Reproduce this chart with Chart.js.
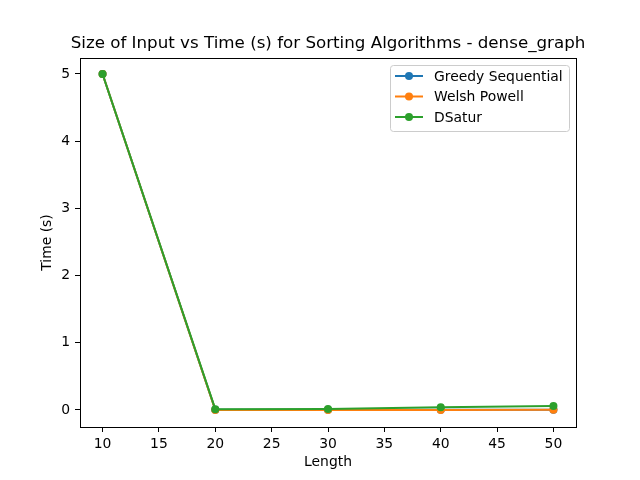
<!DOCTYPE html>
<html>
<head>
<meta charset="utf-8">
<script src="https://cdn.jsdelivr.net/npm/chart.js@4/dist/chart.umd.min.js"></script>
<style>
  html, body { margin: 0; padding: 0; background: #fff; }
  #wrap { width: 640px; height: 480px; }
</style>
</head>
<body>
<div id="wrap"><canvas id="grafico"></canvas></div>
<script>
// valores
const tamanhos = [10, 20, 30, 40, 50];
const greedySequential = [5.0, 0.002, 0.002, 0.003, 0.003];
const welshPowell = [5.0, 0.001, 0.001, 0.001, 0.002];
const dsatur = [5.0, 0.012, 0.015, 0.042, 0.060];
const ticksX = [10, 15, 20, 25, 30, 35, 40, 45, 50];
const ticksY = [0, 1, 2, 3, 4, 5];

const titulo = 'Size of Input vs Time (s) for Sorting Algorithms - dense_graph';
const nomes = ['Greedy Sequential', 'Welsh Powell', 'DSatur'];
const cores = ['#1f77b4', '#ff7f0e', '#2ca02c'];
const series = [greedySequential, welshPowell, dsatur];

const fonte = 'DejaVu Sans';

// título centrado na área do gráfico, moldura dos eixos e legenda
const molduraLegenda = {
  id: 'molduraLegenda',
  afterDraw(chart) {
    const ctx = chart.ctx;
    const a = chart.chartArea;
    ctx.save();

    ctx.fillStyle = '#000';
    ctx.font = '16.7px "' + fonte + '"';
    ctx.textAlign = 'center';
    ctx.textBaseline = 'middle';
    ctx.fillText(titulo, (a.left + a.right) / 2, 44);
    ctx.textAlign = 'left';

    ctx.strokeStyle = '#000';
    ctx.lineWidth = 1;
    ctx.strokeRect(Math.round(a.left) + 0.5, Math.round(a.top) + 0.5,
      Math.round(a.right - a.left), Math.round(a.bottom - a.top));

    // legenda
    const x0 = a.right - 7, y0 = a.top + 7;
    const w = 179, h = 66;
    const bx = x0 - w;
    ctx.fillStyle = 'rgba(255,255,255,0.8)';
    ctx.strokeStyle = '#cccccc';
    ctx.beginPath();
    if (ctx.roundRect) ctx.roundRect(bx + 0.5, y0 + 0.5, w, h, 3); else ctx.rect(bx + 0.5, y0 + 0.5, w, h);
    ctx.fill();
    ctx.stroke();
    ctx.font = '13.9px "' + fonte + '"';
    ctx.textBaseline = 'middle';
    chart.data.datasets.forEach((ds, i) => {
      const yy = y0 + 11 + i * 20.5;
      ctx.strokeStyle = ds.borderColor;
      ctx.lineWidth = 2;
      ctx.beginPath();
      ctx.moveTo(bx + 5, yy);
      ctx.lineTo(bx + 33, yy);
      ctx.stroke();
      ctx.fillStyle = ds.borderColor;
      ctx.beginPath();
      ctx.arc(bx + 19, yy, 4, 0, Math.PI * 2);
      ctx.fill();
      ctx.fillStyle = '#000';
      ctx.fillText(ds.label, bx + 44, yy + 1);
    });
    ctx.restore();
  }
};

const datasets = series.map((vals, i) => ({
  label: nomes[i],
  data: tamanhos.map((t, j) => ({ x: t, y: vals[j] })),
  borderColor: cores[i],
  backgroundColor: cores[i],
  borderWidth: 2,
  pointRadius: 4,
  pointHoverRadius: 4,
  pointBorderWidth: 0,
  tension: 0,
  order: 3 - i
}));

new Chart(document.getElementById('grafico'), {
  type: 'line',
  data: { datasets },
  plugins: [molduraLegenda],
  options: {
    responsive: true,
    maintainAspectRatio: false,
    animation: false,
    devicePixelRatio: 1,
    layout: { padding: { left: 0, right: 64, top: 58, bottom: 0 } },
    plugins: {
      legend: { display: false },
      tooltip: { enabled: false },
      title: { display: false }
    },
    scales: {
      x: {
        type: 'linear',
        min: 8,
        max: 52,
        afterBuildTicks(scale) { scale.ticks = ticksX.map(v => ({ value: v })); },
        afterFit(scale) { scale.height = 53; },
        grid: { display: true, drawOnChartArea: false, drawTicks: true, tickLength: 5, color: '#000' },
        border: { display: false },
        ticks: { color: '#000', font: { family: fonte, size: 13.9 }, padding: 4, maxRotation: 0 },
        title: { display: true, text: 'Length', color: '#000', font: { family: fonte, size: 13.9 }, padding: { top: 0, bottom: 9 } }
      },
      y: {
        type: 'linear',
        min: -0.253,
        max: 5.238,
        afterBuildTicks(scale) { scale.ticks = ticksY.map(v => ({ value: v })); },
        afterFit(scale) { scale.width = 80; },
        grid: { display: true, drawOnChartArea: false, drawTicks: true, tickLength: 5, color: '#000' },
        border: { display: false },
        ticks: { color: '#000', font: { family: fonte, size: 13.9 }, padding: 5 },
        title: { display: true, text: 'Time (s)', color: '#000', font: { family: fonte, size: 13.9 }, padding: { top: 39, bottom: 0 } }
      }
    }
  }
});
</script>
</body>
</html>
